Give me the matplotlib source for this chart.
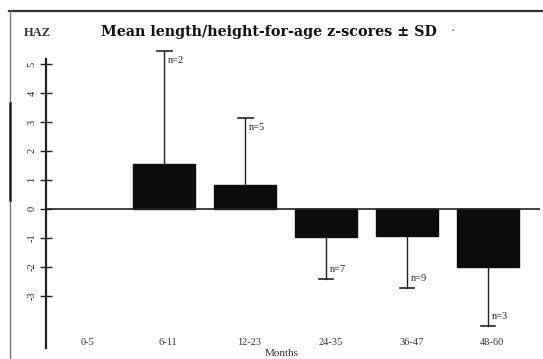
import matplotlib
matplotlib.use("Agg")
import matplotlib.pyplot as plt
from matplotlib.lines import Line2D

categories = ["0-5", "6-11", "12-23", "24-35", "36-47", "48-60"]
means = [None, 1.55, 0.83, -0.97, -0.93, -2.0]
sds = [None, 3.9, 2.3, 1.45, 1.8, 2.03]
ns = [None, 2, 5, 7, 9, 3]
yticks = [-3, -2, -1, 0, 1, 2, 3, 4, 5]

plt.rcParams['font.family'] = ['Liberation Serif', 'DejaVu Serif']

fig = plt.figure(figsize=(5.43, 3.59), dpi=100)
ytop_px = 209 - 5.6 * 29
ax = fig.add_axes([46/543, 1-348/359, (540-46)/543, (348-ytop_px)/359])

for i, (m, s, n) in enumerate(zip(means, sds, ns)):
    if m is None:
        continue
    ax.bar(i, m, width=0.76, color='#0d0d0d', edgecolor='#0d0d0d', zorder=2)
    end = m + s if m > 0 else m - s
    ax.plot([i, i], [m, end], color='#222222', lw=1.0, zorder=1)
    ax.plot([i - 0.09, i + 0.09], [end, end], color='#222222', lw=1.2, zorder=1)
    ty = end - 0.32 if m > 0 else end + 0.32
    ax.text(i + 0.05, ty, f"n={n}", fontsize=7.5, ha='left', va='center', color='#222222')

ax.axhline(0, color='#222222', lw=1.2, zorder=3)
ax.set_xlim(-0.46, 5.64)
ax.set_ylim(-4.8, 5.6)
ax.spines['left'].set_bounds(-4.8, 5.17)
ax.set_yticks(yticks)
ax.set_yticklabels([str(t) for t in yticks], rotation=90, va='center', fontsize=7.5)
ax.tick_params(axis='y', direction='inout', length=8, width=1.0, pad=3, colors='#222222')
ax.set_xticks([])
for sp in ['top', 'right', 'bottom']:
    ax.spines[sp].set_visible(False)
ax.spines['left'].set_linewidth(1.6)
ax.spines['left'].set_color('#222222')

for i, c in enumerate(categories):
    ax.text(i + 0.05, -4.62, c, fontsize=7.5, ha='center', va='center', color='#333333')

fig.text(282/543, 1-354/359, "Months", fontsize=8, ha='center', va='center', color='#333333')
fig.text(37/543, 1-33/359, "HAZ", fontsize=9, ha='center', va='center', color='#333333', fontweight='bold')
fig.text(269/543, 1-32/359, "Mean length/height-for-age z-scores \u00b1 SD", fontsize=10.3,
         ha='center', va='center', fontweight='bold', color='#111111', family='DejaVu Serif')
fig.text(453/543, 1-31/359, "\u00b7", fontsize=9, ha='center', va='center', color='#333333')

# outer frame
fig.add_artist(Line2D([9/543, 1.0], [1-11/359, 1-11/359], transform=fig.transFigure, color='#333333', lw=1.6))
fig.add_artist(Line2D([10/543, 10/543], [0, 1-11/359], transform=fig.transFigure, color='#777777', lw=1.0))
fig.add_artist(Line2D([10/543, 10/543], [1-200/359, 1-103/359], transform=fig.transFigure, color='#222222', lw=1.8))

fig.savefig("out.png", dpi=100)
